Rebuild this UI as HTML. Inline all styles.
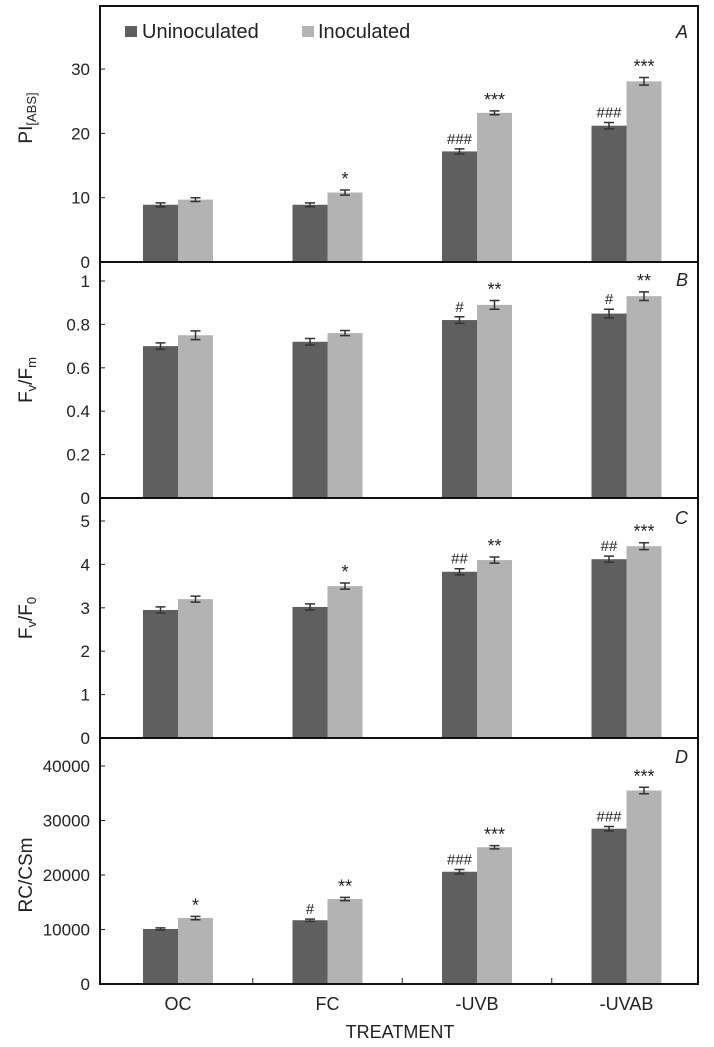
<!DOCTYPE html>
<html><head><meta charset="utf-8"><style>
body{margin:0;background:#fff}
svg{display:block;font-family:"Liberation Sans",Arial,sans-serif}
</style></head><body>
<svg id="c" width="714" height="1047" viewBox="0 0 714 1047"></svg>
<script>
const categories=["OC","FC","-UVB","-UVAB"];
const aUnin=[8.9,8.9,17.2,21.2], aInoc=[9.7,10.8,23.2,28.1];
const aErrU=[0.3,0.3,0.4,0.5], aErrI=[0.3,0.4,0.3,0.6];
const aSigU=["","","###","###"], aSigI=["","*","***","***"];
const aTicks=[0,10,20,30];
const bUnin=[0.70,0.72,0.82,0.85], bInoc=[0.75,0.76,0.89,0.93];
const bErrU=[0.015,0.015,0.015,0.02], bErrI=[0.02,0.012,0.02,0.02];
const bSigU=["","","#","#"], bSigI=["","","**","**"];
const bTicks=[0,0.2,0.4,0.6,0.8,1];
const cUnin=[2.95,3.02,3.83,4.12], cInoc=[3.2,3.5,4.1,4.42];
const cErrU=[0.07,0.07,0.07,0.07], cErrI=[0.07,0.07,0.07,0.08];
const cSigU=["","","##","##"], cSigI=["","*","**","***"];
const cTicks=[0,1,2,3,4,5];
const dUnin=[10100,11700,20600,28500], dInoc=[12100,15600,25100,35500];
const dErrU=[200,200,400,400], dErrI=[300,300,300,600];
const dSigU=["","#","###","###"], dSigI=["*","**","***","***"];
const dTicks=[0,10000,20000,30000,40000];

const svg=document.getElementById('c');
const NS="http://www.w3.org/2000/svg";
function mk(t,a,p){const e=document.createElementNS(NS,t);for(const k in a)e.setAttribute(k,a[k]);(p||svg).appendChild(e);return e;}
const L=100,R=698;
const x=i=>178+i*149.5;
const panels=[
 {top:6,zero:262,scale:v=>262-v*6.43,u:aUnin,i:aInoc,eu:aErrU,ei:aErrI,su:aSigU,si:aSigI,t:aTicks,letter:"A",ly:38,name:"pi-abs"},
 {top:262,zero:498,scale:v=>498-v*217,u:bUnin,i:bInoc,eu:bErrU,ei:bErrI,su:bSigU,si:bSigI,t:bTicks,letter:"B",ly:286,name:"fv-fm"},
 {top:498,zero:738,scale:v=>738-v*43.4,u:cUnin,i:cInoc,eu:cErrU,ei:cErrI,su:cSigU,si:cSigI,t:cTicks,letter:"C",ly:524,name:"fv-f0"},
 {top:738,zero:984,scale:v=>984-v*0.00545,u:dUnin,i:dInoc,eu:dErrU,ei:dErrI,su:dSigU,si:dSigI,t:dTicks,letter:"D",ly:763,name:"rc-csm"}
];
const BW=35;
panels.forEach((p,pi)=>{
 const g=mk('g',{});
 
 
 p.u.forEach((v,k)=>{
  [[v,p.eu[k],p.su[k],x(k)-BW,'#5f5f5f','uninoculated'],[p.i[k],p.ei[k],p.si[k],x(k),'#b3b3b3','inoculated']].forEach(([val,err,sig,bx,col,s])=>{
   const y=p.scale(val);
   const r=mk('rect',{x:bx,y:y,width:BW,height:p.zero-y,fill:col},g);
   
   
   const cx=bx+BW/2,y1=p.scale(val+err),y2=p.scale(val-err);
   mk('path',{d:`M${cx-5},${y1}H${cx+5}M${cx},${y1}V${y2}M${cx-5},${y2}H${cx+5}`,stroke:'#333','stroke-width':1.5,fill:'none'},g);
   if(sig){const tx=mk('text',{x:cx,y:y1-5,'text-anchor':'middle','font-size':sig.includes('#')?15:18,fill:'#222'},g);tx.textContent=sig;
    
    }
  });
 });
 p.t.forEach(v=>{const y=p.scale(v);
  mk('line',{x1:L,x2:L+5,y1:y,y2:y,stroke:'#222','stroke-width':1},g);
  const t=mk('text',{x:L-10,y:y+6,'text-anchor':'end','font-size':17,fill:'#222'},g);t.textContent=v;
  
  });
 const lt=mk('text',{x:R-10,y:p.ly,'text-anchor':'end','font-size':18,'font-style':'italic',fill:'#222'},g);lt.textContent=p.letter;
 
 
 mk('rect',{x:L,y:p.top,width:R-L,height:p.zero-p.top,fill:'none',stroke:'#111','stroke-width':2},g);
});
[1,2,3].forEach(k=>mk('line',{x1:(x(k-1)+x(k))/2,x2:(x(k-1)+x(k))/2,y1:984,y2:978,stroke:'#222'}));
function yt(html,cy,name){const t=mk('text',{transform:`translate(32,${cy}) rotate(-90)`,'text-anchor':'middle','font-size':19,fill:'#222'});t.innerHTML=html;}
yt('PI<tspan font-size="13" dy="4">[ABS]</tspan>',118,'y-axis-title-pi');
yt('F<tspan font-size="13" dy="4">v</tspan><tspan dy="-4">/F</tspan><tspan font-size="13" dy="4">m</tspan>',380,'y-axis-title-fvfm');
yt('F<tspan font-size="13" dy="4">v</tspan><tspan dy="-4">/F</tspan><tspan font-size="13" dy="4">0</tspan>',618,'y-axis-title-fvf0');
yt('RC/CSm',875,'y-axis-title-rccsm');
categories.forEach((c,k)=>{const t=mk('text',{x:x(k),y:1010,'text-anchor':'middle','font-size':18,fill:'#222'});t.textContent=c;
 
 });
const xt=mk('text',{x:400,y:1038,'text-anchor':'middle','font-size':18,fill:'#222'});xt.textContent='TREATMENT';


const lg=mk('g',{});


mk('rect',{x:125,y:26,width:12,height:11,fill:'#5f5f5f'},lg);
let t1=mk('text',{x:142,y:38,'font-size':20,fill:'#222'},lg);t1.textContent='Uninoculated';
mk('rect',{x:302,y:26,width:12,height:11,fill:'#b3b3b3'},lg);
let t2=mk('text',{x:318,y:38,'font-size':20,fill:'#222'},lg);t2.textContent='Inoculated';
</script>
</body></html>
